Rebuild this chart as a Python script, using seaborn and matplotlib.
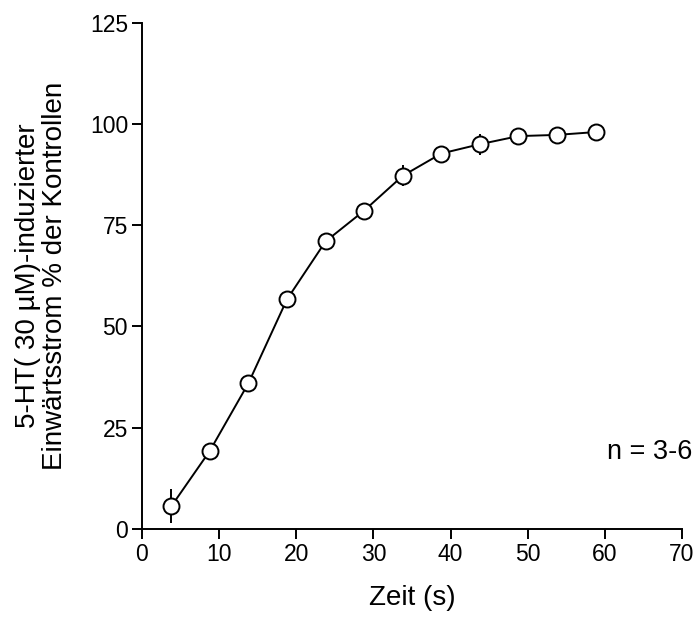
import matplotlib
matplotlib.use("Agg")
import matplotlib.pyplot as plt
import seaborn as sns
import pandas as pd

time_s = [3.8, 8.8, 13.8, 18.8, 23.8, 28.8, 33.8, 38.8, 43.8, 48.8, 53.8, 58.8]
current_pct = [5.6, 19.3, 36.0, 56.7, 71.0, 78.6, 87.2, 92.7, 95.0, 97.0, 97.3, 98.0]
sem = [4.2, 0.8, 0.8, 0.8, 0.8, 0.8, 2.6, 0.8, 2.6, 1.8, 0.8, 0.8]

x_ticks = [0, 10, 20, 30, 40, 50, 60, 70]
y_ticks = [0, 25, 50, 75, 100, 125]

sns.set_theme(style="ticks")
plt.rcParams['font.family'] = ['Liberation Sans', 'DejaVu Sans']

df = pd.DataFrame({"t": time_s, "y": current_pct, "e": sem})

fig = plt.figure(figsize=(6.98, 6.19), dpi=100)
ax = fig.add_axes([0.2034, 1 - 529 / 619, 540 / 698, (529 - 22.7) / 619])

ax.errorbar(df["t"], df["y"], yerr=df["e"], fmt="none", ecolor="black",
            elinewidth=1.4, capsize=0, zorder=2)
sns.lineplot(data=df, x="t", y="y", ax=ax, color="black", linewidth=1.4,
             marker="o", markersize=11.5, markerfacecolor="white",
             markeredgecolor="black", markeredgewidth=1.4, zorder=3)

ax.set_xlim(0, 70)
ax.set_ylim(0, 125)
ax.set_xticks(x_ticks)
ax.set_yticks(y_ticks)
ax.tick_params(axis="both", labelsize=16.5, length=7, width=1.4, color="black",
               labelcolor="black", direction="out", pad=3)
for s in ["top", "right"]:
    ax.spines[s].set_visible(False)
for s in ["left", "bottom"]:
    ax.spines[s].set_linewidth(1.4)
    ax.spines[s].set_color("black")

ax.set_xlabel("Zeit (s)", fontsize=20, color="black", labelpad=14)
ax.set_ylabel("5-HT( 30 µM)-induzierter\nEinwärtsstrom % der Kontrollen",
              fontsize=20, color="black", labelpad=16, linespacing=1.05)

ax.text(71.3, 18.9, "n = 3-6", fontsize=19.5, ha="right", va="center",
        color="black", clip_on=False)

fig.savefig("out.png", dpi=100)
